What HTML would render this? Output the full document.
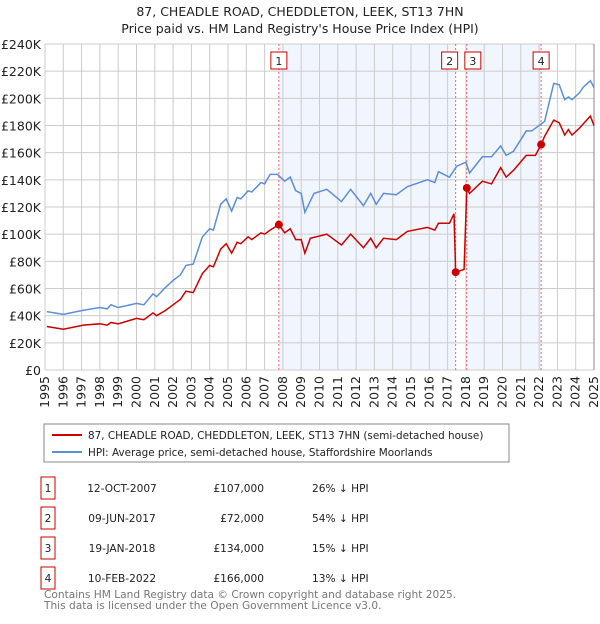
<!DOCTYPE html>
<html><head><meta charset="utf-8"><style>
body{margin:0;background:#fff;font-family:"DejaVu Sans","Liberation Sans",sans-serif;}
svg text{font-family:"DejaVu Sans","Liberation Sans",sans-serif;}
</style></head><body>
<svg id="c" width="600" height="620" xmlns="http://www.w3.org/2000/svg">
<text x="300" y="16" text-anchor="middle" font-size="12.5" fill="#222">87, CHEADLE ROAD, CHEDDLETON, LEEK, ST13 7HN</text>
<text x="300" y="33" text-anchor="middle" font-size="12.5" fill="#222">Price paid vs. HM Land Registry's House Price Index (HPI)</text>
<g id="plot"></g>
<rect x="44" y="424" width="465" height="38" fill="#fff" stroke="#888"/>
<line x1="52" y1="435" x2="82" y2="435" stroke="#cc0000" stroke-width="2"/>
<text x="88" y="439" font-size="10.4" fill="#222">87, CHEADLE ROAD, CHEDDLETON, LEEK, ST13 7HN (semi-detached house)</text>
<line x1="52" y1="452" x2="82" y2="452" stroke="#5b8fd6" stroke-width="2"/>
<text x="88" y="456" font-size="10.4" fill="#222">HPI: Average price, semi-detached house, Staffordshire Moorlands</text>
<g id="table" font-size="10.6" fill="#222"></g>
<text x="44" y="598" font-size="10.6" fill="#777">Contains HM Land Registry data © Crown copyright and database right 2025.</text>
<text x="44" y="609" font-size="10.6" fill="#777">This data is licensed under the Open Government Licence v3.0.</text>
</svg>
<script>
const hpiYears=[1995.1,1996,1997.1,1998,1998.4,1998.6,1999,2000,2000.4,2000.9,2001.1,2001.6,2002,2002.4,2002.7,2003.1,2003.6,2004,2004.2,2004.6,2004.9,2005.2,2005.5,2005.7,2006.1,2006.3,2006.8,2007,2007.3,2007.7,2008.1,2008.4,2008.7,2009,2009.2,2009.7,2010.4,2011.2,2011.7,2012.4,2012.8,2013.1,2013.5,2014.2,2014.8,2015.9,2016.3,2016.5,2017.1,2017.5,2018,2018.2,2018.9,2019.4,2019.9,2020.2,2020.6,2021.3,2021.6,2022,2022.3,2022.8,2023.1,2023.4,2023.6,2023.8,2024.2,2024.4,2024.8,2025];
const hpiValues=[43,41,44,46,45,48,46,49,48,56,54,61,66,70,77,78,98,104,103,122,126,117,127,126,132,131,138,137,144,144,139,142,132,130,116,130,133,124,133,121,130,122,130,129,135,140,138,146,142,150,153,145,157,157,165,158,161,176,176,180,183,211,210,199,201,199,204,208,213,208];
const priceYears=[1995.1,1996,1997.1,1998,1998.4,1998.6,1999,2000,2000.4,2000.9,2001.1,2001.6,2002,2002.4,2002.7,2003.1,2003.6,2004,2004.2,2004.6,2004.9,2005.2,2005.5,2005.7,2006.1,2006.3,2006.8,2007,2007.3,2007.78,2008.1,2008.4,2008.7,2009,2009.2,2009.5,2010.4,2011.2,2011.7,2012.4,2012.8,2013.1,2013.5,2014.2,2014.8,2015.9,2016.3,2016.5,2017.1,2017.35,2017.44,2017.9,2018.05,2018.2,2018.9,2019.4,2019.9,2020.2,2020.6,2021.3,2021.8,2022.11,2022.3,2022.8,2023.1,2023.4,2023.6,2023.8,2024.2,2024.8,2025];
const priceValues=[32,30,33,34,33,35,34,38,37,42,40,44,48,52,58,57,71,77,76,89,93,86,94,93,98,96,101,100,103,107,101,104,96,96,86,97,100,92,100,90,97,90,97,96,102,105,103,108,108,115,72,74,134,130,139,137,149,142,147,158,158,166,172,184,182,173,177,173,178,187,180];
const saleLabels=["1","2","3","4"];
const saleYears=[2007.78,2017.44,2018.05,2022.11];
const saleValues=[107,72,134,166];
const saleDates=["12-OCT-2007","09-JUN-2017","19-JAN-2018","10-FEB-2022"];
const salePrices=["£107,000","£72,000","£134,000","£166,000"];
const saleDiffs=["26% ↓ HPI","54% ↓ HPI","15% ↓ HPI","13% ↓ HPI"];
const yTicks=[0,20,40,60,80,100,120,140,160,180,200,220,240];
const xTicks=[1995,1996,1997,1998,1999,2000,2001,2002,2003,2004,2005,2006,2007,2008,2009,2010,2011,2012,2013,2014,2015,2016,2017,2018,2019,2020,2021,2022,2023,2024,2025];

const L=45,R=594,T=44,B=370;
const xs=y=>L+(y-1995)/30*(R-L);
const ys=v=>B-v/240*(B-T);
const NS="http://www.w3.org/2000/svg";
const g=document.getElementById('plot');
function mk(tag,attrs,parent){const e=document.createElementNS(NS,tag);for(const k in attrs)e.setAttribute(k,attrs[k]);(parent||g).appendChild(e);return e;}
const shades=[[0,1],[2,3]];
shades.forEach(s=>{
  const r=mk('rect',{x:xs(saleYears[s[0]]),y:T,width:xs(saleYears[s[1]])-xs(saleYears[s[0]]),height:B-T,fill:'#eef3fc',opacity:0.8});
  
  
});
yTicks.forEach(v=>{
  const l=mk('line',{x1:L,x2:R,y1:ys(v),y2:ys(v),stroke:'#ccc','stroke-width':1});
  
  
  const t=mk('text',{x:L-4,y:ys(v)+5,'text-anchor':'end','font-size':12.5,fill:'#222'});
  t.textContent='£'+v+(v?'K':'');
  
  
});
xTicks.forEach(y=>{
  const l=mk('line',{x1:xs(y),x2:xs(y),y1:T,y2:B,stroke:'#ccc','stroke-width':1});
  
  
  const t=mk('text',{x:0,y:0,'text-anchor':'end','font-size':12.5,fill:'#222',transform:`translate(${xs(y)+4},${B+6}) rotate(-90)`});
  t.textContent=y;
  
  
});
const ax=mk('line',{x1:R,x2:R,y1:T,y2:B,stroke:'#888'});


saleYears.forEach((y,i)=>{
  const l=mk('line',{x1:xs(y),x2:xs(y),y1:T,y2:B,stroke:'#e66','stroke-width':1,'stroke-dasharray':'2,2'});
  
  
});
const hp=mk('polyline',{points:hpiYears.map((y,i)=>xs(y)+','+ys(hpiValues[i])).join(' '),fill:'none',stroke:'#5b8fd6','stroke-width':1.5});


const pp=mk('polyline',{points:priceYears.map((y,i)=>xs(y)+','+ys(priceValues[i])).join(' '),fill:'none',stroke:'#cc0000','stroke-width':1.5});


const off=[0,-6,6,0];
saleYears.forEach((y,i)=>{
  const c=mk('circle',{cx:xs(y),cy:ys(saleValues[i]),r:4,fill:'#cc0000'});
  
  
  const bx=xs(y)+off[i]-8;
  const r=mk('rect',{x:bx,y:52,width:16,height:17,fill:'#fff',stroke:'#cc0000'});
  
  
  const t=mk('text',{x:bx+8,y:65,'text-anchor':'middle','font-size':11,fill:'#222'});
  t.textContent=saleLabels[i];
  
  
});
const tb=document.getElementById('table');
saleLabels.forEach((s,i)=>{
  const cy=488+i*30;
  const r=mk('rect',{x:41,y:cy-11,width:14,height:22,fill:'#fff',stroke:'#cc0000'},tb);
  
  
  const cells=[[48,'middle',s],[122,'middle',saleDates[i]],[264,'end',salePrices[i]],[312,'start',saleDiffs[i]]];
  cells.forEach(c=>{
    const t=mk('text',{x:c[0],y:cy+4,'text-anchor':c[1]},tb);
    t.textContent=c[2];
    
    
  });
});
</script>
</body></html>
